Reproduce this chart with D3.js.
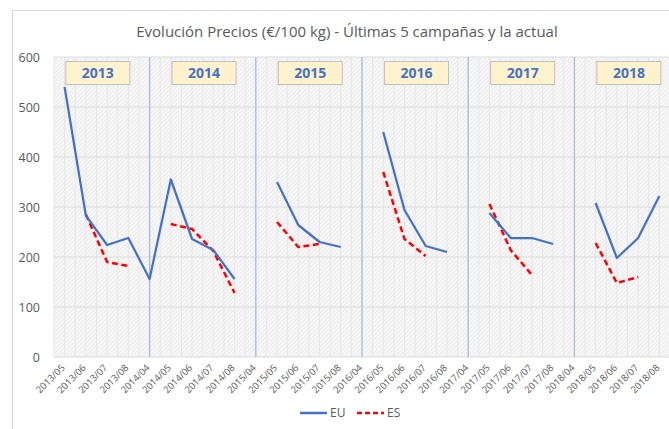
<!DOCTYPE html>
<html>
<head>
<meta charset="utf-8">
<script src="https://cdn.jsdelivr.net/npm/d3@7"></script>
<style>
	body { margin: 0; background: #fff; }
	text { font-family: "Open Sans", "Noto Sans", sans-serif; fill: #595959; }
</style>
</head>
<body>
<div id="chart-area"></div>
<script>

// SVG Size
let width = 669,
	height = 429;

// categories (campaign months)
let months = ["2013/05", "2013/06", "2013/07", "2013/08",
	"2014/04", "2014/05", "2014/06", "2014/07", "2014/08",
	"2015/04", "2015/05", "2015/06", "2015/07", "2015/08",
	"2016/04", "2016/05", "2016/06", "2016/07", "2016/08",
	"2017/04", "2017/05", "2017/06", "2017/07", "2017/08",
	"2018/04", "2018/05", "2018/06", "2018/07", "2018/08"];

// price series, null = no value
let euValues = [540, 283, 224, 238,
	156, 355, 236, 214, 156,
	null, 350, 264, 230, 220,
	null, 450, 294, 222, 210,
	null, 288, 238, 238, 226,
	null, 308, 198, 238, 322];

let esValues = [null, 285, 190, 182,
	null, 266, 256, 212, 128,
	null, 270, 220, 226, null,
	null, 370, 236, 202, null,
	null, 306, 214, 164, null,
	null, 228, 148, 160, null];

let campaigns = ["2013", "2014", "2015", "2016", "2017", "2018"];
let separators = ["2014/04", "2015/04", "2016/04", "2017/04", "2018/04"];
let yTicks = [0, 100, 200, 300, 400, 500, 600];

let margin = {left: 54, right: -1, top: 57, bottom: 72};

drawChart();

function drawChart() {
	let svg = d3.select("#chart-area").append("svg").attr("width", width).attr("height", height);

	// hatch pattern for plot background
	let defs = svg.append("defs");
	let pat = defs.append("pattern")
		.attr("id", "hatch")
		.attr("width", 3)
		.attr("height", 3)
		.attr("patternUnits", "userSpaceOnUse")
		.attr("patternTransform", "rotate(45)");
	pat.append("rect").attr("width", 3).attr("height", 3).attr("fill", "#f7f7f7");
	pat.append("line").attr("x1", 0).attr("y1", 0).attr("x2", 0).attr("y2", 3)
		.attr("stroke", "#e4e4e4").attr("stroke-width", 1.2);

	// chart border
	svg.append("rect")
		.attr("x", 12.5).attr("y", 10.5)
		.attr("width", width).attr("height", height)
		.attr("fill", "none").attr("stroke", "#d9d9d9");

	let x = d3.scalePoint().domain(months)
		.range([margin.left, width - margin.right]).padding(0.5);
	let y = d3.scaleLinear().domain([0, 600]).range([height - margin.bottom, margin.top]);
	let step = x.step();

	svg.append("rect")
		.attr("x", margin.left).attr("y", margin.top)
		.attr("width", width - margin.right - margin.left)
		.attr("height", y(0) - y(600))
		.attr("fill", "url(#hatch)");

	// vertical gridlines (half category spacing)
	let vg = d3.range(0, months.length * 2 + 1).map(i => margin.left + i * step / 2);
	svg.append("g").selectAll("line").data(vg).enter().append("line")
		.attr("x1", d => d).attr("x2", d => d)
		.attr("y1", y(600)).attr("y2", y(0))
		.attr("stroke", "#e6e6e6").attr("stroke-width", 1);

	// horizontal gridlines
	svg.append("g").selectAll("line").data(yTicks).enter().append("line")
		.attr("x1", margin.left).attr("x2", width - margin.right)
		.attr("y1", d => y(d)).attr("y2", d => y(d))
		.attr("stroke", "#dcdcdc").attr("stroke-width", 1);

	// campaign separators
	svg.append("g").selectAll("line").data(separators).enter().append("line")
		.attr("x1", d => x(d)).attr("x2", d => x(d))
		.attr("y1", y(600)).attr("y2", y(0))
		.attr("stroke", "#a9bbdc").attr("stroke-width", 1.3);

	// y axis
	let yAxis = d3.axisLeft(y).tickValues(yTicks).tickSize(0).tickPadding(14);
	let ya = svg.append("g")
		.attr("class", "axis y-axis")
		.attr("transform", "translate(" + margin.left + ",0)")
		.call(yAxis);
	ya.select(".domain").remove();
	ya.selectAll("text").attr("font-size", 12.5).attr("fill", "#595959")
		.style("font-family", "'Open Sans', sans-serif");

	// x axis
	let xAxis = d3.axisBottom(x).tickSize(0).tickPadding(6);
	let xa = svg.append("g")
		.attr("class", "axis x-axis")
		.attr("transform", "translate(0," + y(0) + ")")
		.call(xAxis);
	xa.select(".domain").remove();
	xa.selectAll("text")
		.attr("font-size", 9.5)
		.attr("fill", "#595959")
		.style("font-family", "'Open Sans', sans-serif")
		.attr("text-anchor", "end")
		.attr("x", 0)
		.attr("y", 0)
		.attr("dy", "0.35em")
		.attr("transform", "translate(-2,9) rotate(-45)");

	// lines
	let line = d3.line()
		.defined(d => d.v !== null)
		.x(d => x(d.m))
		.y(d => y(d.v));

	let euData = months.map((m, i) => ({m: m, v: euValues[i]}));
	let esData = months.map((m, i) => ({m: m, v: esValues[i]}));

	svg.append("path").datum(esData)
		.attr("d", line)
		.attr("fill", "none")
		.attr("stroke", "#ff0000")
		.attr("stroke-width", 2.5)
		.attr("stroke-dasharray", "6,3.5");

	svg.append("path").datum(euData)
		.attr("d", line)
		.attr("fill", "none")
		.attr("stroke", "#4472c4")
		.attr("stroke-width", 2.25)
		.attr("stroke-linejoin", "round");

	// campaign labels
	let boxes = svg.append("g").selectAll("g").data(campaigns).enter().append("g")
		.attr("transform", d => "translate(" + (x(d + "/06") + 12) + ",73)");
	boxes.append("rect")
		.attr("x", -32).attr("y", -11.5)
		.attr("width", 64).attr("height", 23)
		.attr("fill", "#fff2cc")
		.attr("stroke", "#bfbfbf");
	boxes.append("text")
		.attr("text-anchor", "middle")
		.attr("dy", "0.36em")
		.attr("font-size", 14)
		.attr("font-weight", "bold")
		.style("fill", "#4472c4")
		.text(d => d);

	// title
	svg.append("text")
		.attr("x", 347)
		.attr("y", 37)
		.attr("text-anchor", "middle")
		.attr("font-size", 15)
		.text("Evolución Precios (€/100 kg) - Últimas 5 campañas y la actual");

	// legend
	let legend = [
		{name: "EU", color: "#4472c4", dash: null, x: 300},
		{name: "ES", color: "#ff0000", dash: "5,3", x: 357}
	];
	let lg = svg.append("g").selectAll("g").data(legend).enter().append("g")
		.attr("transform", d => "translate(" + d.x + ",413)");
	lg.append("line")
		.attr("x1", 0).attr("x2", 27)
		.attr("stroke", d => d.color)
		.attr("stroke-width", 2.5)
		.attr("stroke-dasharray", d => d.dash);
	lg.append("text")
		.attr("x", 30)
		.attr("dy", "0.35em")
		.attr("font-size", 12)
		.text(d => d.name);
}

</script>
</body>
</html>
